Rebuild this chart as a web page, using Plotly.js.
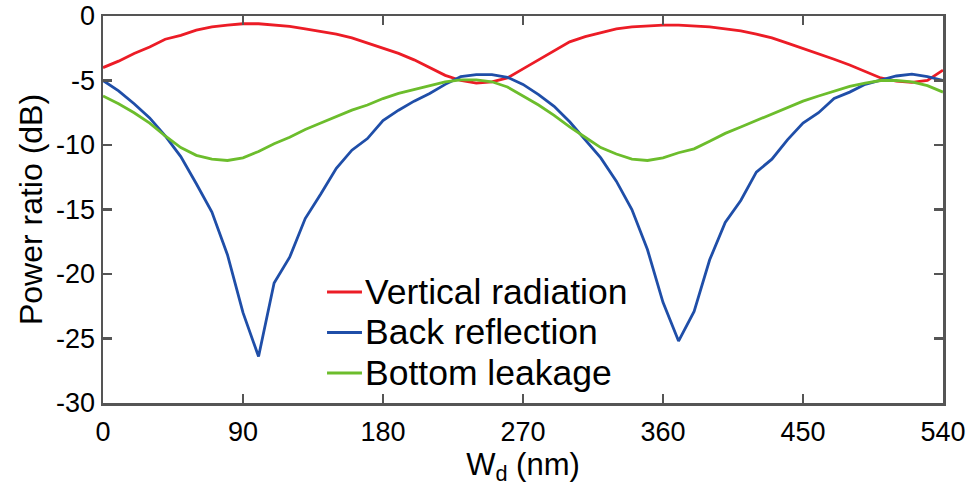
<!DOCTYPE html>
<html><head><meta charset="utf-8">
<script src="https://cdn.plot.ly/plotly-3.0.1.min.js"></script>
<style>html,body{margin:0;padding:0;background:#fff}#chart{width:976px;height:491px}</style>
</head><body><div id="chart"></div>
<script>
const wd = [0,10,20,30,40,50,60,70,80,90,100,110,120,130,140,150,160,170,180,190,200,210,220,230,240,250,260,270,280,290,300,310,320,330,340,350,360,370,380,390,400,410,420,430,440,450,460,470,480,490,500,510,520,530,540];
const vertical = [-4.0,-3.5,-2.9,-2.4,-1.8,-1.5,-1.1,-0.85,-0.7,-0.6,-0.6,-0.7,-0.8,-1.0,-1.2,-1.4,-1.7,-2.1,-2.5,-2.9,-3.4,-4.0,-4.6,-5.0,-5.2,-5.1,-4.8,-4.1,-3.4,-2.7,-2.0,-1.6,-1.3,-1.0,-0.85,-0.75,-0.7,-0.7,-0.75,-0.85,-1.0,-1.15,-1.4,-1.7,-2.1,-2.5,-2.9,-3.35,-3.8,-4.3,-4.8,-5.05,-5.15,-5.0,-4.2];
const back = [-5.0,-5.8,-6.8,-7.9,-9.3,-10.9,-13.0,-15.2,-18.5,-23.0,-26.4,-20.7,-18.7,-15.7,-13.8,-11.8,-10.4,-9.5,-8.1,-7.3,-6.6,-6.0,-5.3,-4.7,-4.55,-4.55,-4.75,-5.3,-6.1,-7.0,-8.2,-9.6,-11.0,-12.8,-15.0,-18.1,-22.2,-25.2,-22.9,-18.9,-16.0,-14.3,-12.1,-11.1,-9.6,-8.3,-7.5,-6.4,-5.9,-5.3,-4.95,-4.65,-4.5,-4.7,-5.0];
const bottom = [-6.2,-6.8,-7.5,-8.3,-9.3,-10.2,-10.8,-11.1,-11.2,-11.0,-10.5,-9.9,-9.4,-8.8,-8.3,-7.8,-7.3,-6.9,-6.4,-6.0,-5.7,-5.35,-5.1,-4.95,-4.95,-5.1,-5.5,-6.2,-6.9,-7.7,-8.6,-9.4,-10.2,-10.7,-11.1,-11.2,-11.0,-10.6,-10.3,-9.7,-9.1,-8.6,-8.1,-7.6,-7.1,-6.6,-6.2,-5.8,-5.45,-5.2,-5.0,-5.0,-5.1,-5.4,-5.9];
const names = ['Vertical radiation','Back reflection','Bottom leakage'];
const colors = ['#ec1c26','#1f4ea8','#6cbd2c'];
const xticks = [0,90,180,270,360,450,540];
const yticks = [0,-5,-10,-15,-20,-25,-30];

const series = [vertical, back, bottom];
const data = series.map((s,i)=>({x:wd,y:s,type:'scatter',mode:'lines',name:names[i],
  line:{color:colors[i],width:2.8}}));
const font = {family:'Liberation Sans, Arial, sans-serif',color:'#000'};

// in-plot legend (line sample + label), placed in paper coordinates
const legX0 = 0.2667, legX1 = 0.3083, legTextX = 0.3095;
const legY = [0.2868, 0.1822, 0.0775];
const shapes = names.map((n,i)=>({type:'line',xref:'paper',yref:'paper',x0:legX0,x1:legX1,y0:legY[i],y1:legY[i],
  line:{color:colors[i],width:2.8}}));
const annotations = names.map((n,i)=>({xref:'paper',yref:'paper',x:legTextX,y:legY[i],xanchor:'left',yanchor:'middle',
  text:n,showarrow:false,font:Object.assign({size:35.5},font)}));

const layout = {
  width:976,height:491,
  margin:{l:103,r:33,t:16,b:88},
  paper_bgcolor:'#fff',plot_bgcolor:'#fff',
  font:Object.assign({size:27},font),
  showlegend:false,
  shapes:shapes, annotations:annotations,
  xaxis:{range:[0,540],tickvals:xticks,ticktext:xticks.map(String),ticks:'inside',ticklen:9,tickwidth:2.5,
    tickcolor:'#555',showline:true,linecolor:'#555',linewidth:2.5,mirror:'ticks',showgrid:false,zeroline:false,
    tickfont:Object.assign({size:27},font),ticklabelstandoff:3,
    title:{text:'W<sub>d</sub> (nm)',font:Object.assign({size:31},font),standoff:2}},
  yaxis:{range:[-30,0],tickvals:yticks,ticktext:yticks.map(String),ticks:'inside',ticklen:9,tickwidth:2.5,
    tickcolor:'#555',showline:true,linecolor:'#555',linewidth:2.5,mirror:'ticks',showgrid:false,zeroline:false,
    tickfont:Object.assign({size:27},font),
    title:{text:'Power ratio (dB)',font:Object.assign({size:32},font),standoff:4}}
};
Plotly.newPlot('chart',data,layout,{displayModeBar:false,staticPlot:true});
</script></body></html>
